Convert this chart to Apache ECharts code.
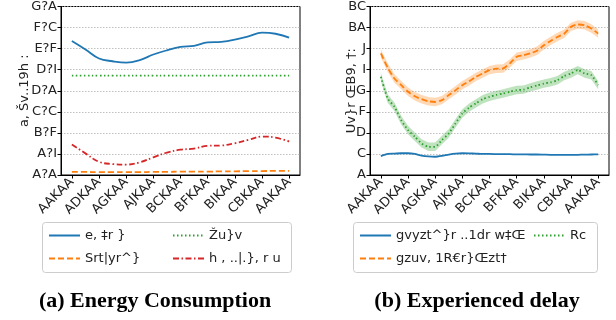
<!DOCTYPE html>
<html>
<head>
<meta charset="utf-8">
<script src="https://cdn.jsdelivr.net/npm/echarts@6/dist/echarts.min.js"></script>
<style>
  html, body { margin: 0; padding: 0; background: #fff; }
  #chart { width: 616px; height: 320px; }
</style>
</head>
<body>
<div id="chart"></div>
<script>
// x positions in hours of day
const hoursCoarse = [0, 1.5, 3, 4.5, 6, 7.5, 9, 10.5, 12, 13.5, 15, 16.5, 18, 19.5, 21, 22.5, 24];
const hoursFine = [0, 0.75, 1.5, 2.25, 3, 3.75, 4.5, 5.25, 6, 6.75, 7.5, 8.25, 9, 9.75, 10.5, 11.25,
  12, 12.75, 13.5, 14.25, 15, 15.75, 16.5, 17.25, 18, 18.75, 19.5, 20.25, 21, 21.75, 22.5, 23.25, 24];

const xTickValues = [0, 3, 6, 9, 12, 15, 18, 21, 24];
const xTickLabels = ['AAKAA', 'ADKAA', 'AGKAA', 'AJKAA', 'BCKAA', 'BFKAA', 'BIKAA', 'CBKAA', 'AAKAA'];
const energyTickLabels = ['A?A', 'A?I', 'B?F', 'C?C', 'D?A', 'D?I', 'E?F', 'F?C', 'G?A'];
const delayTickLabels = ['A', 'C', 'D', 'F', 'G', 'I', 'J', 'BA', 'BC'];

// (a) energy
const energyNames = ['e, \u2021r }', 'Srt|yr^}', '\u017du}v', 'h , ..|.}, r u'];
const energyBlue = [4.77, 4.47, 4.15, 4.05, 4.0, 4.09, 4.29, 4.44, 4.56, 4.6, 4.72, 4.74, 4.82, 4.94, 5.07, 5.03, 4.89];
const energyOrange = [0.11, 0.11, 0.1, 0.1, 0.1, 0.1, 0.11, 0.11, 0.12, 0.12, 0.12, 0.13, 0.13, 0.14, 0.14, 0.15, 0.15];
const energyGreen = [3.54, 3.54, 3.54, 3.54, 3.54, 3.54, 3.54, 3.54, 3.54, 3.54, 3.54, 3.54, 3.54, 3.54, 3.54, 3.54, 3.54];
const energyRed = [1.09, 0.77, 0.47, 0.39, 0.37, 0.45, 0.63, 0.8, 0.9, 0.94, 1.04, 1.05, 1.13, 1.25, 1.37, 1.33, 1.19];

// (b) delay
const delayNames = ['gvyzt^}r ..1dr w\u2021\u0152', 'gzuv, 1R\u20acr}\u0152zt\u2020', 'Rc'];
const delayBlue = [1.35, 1.5, 1.52, 1.55, 1.55, 1.5, 1.38, 1.32, 1.3, 1.36, 1.45, 1.52, 1.55, 1.54, 1.52, 1.5,
  1.5, 1.49, 1.48, 1.48, 1.47, 1.47, 1.46, 1.46, 1.45, 1.44, 1.44, 1.43, 1.43, 1.44, 1.45, 1.46, 1.47];
const delayOrange = [8.66, 7.65, 6.87, 6.4, 5.93, 5.61, 5.4, 5.25, 5.2, 5.33, 5.69, 6.04, 6.4, 6.68, 6.99, 7.23,
  7.47, 7.57, 7.59, 7.95, 8.42, 8.52, 8.66, 8.85, 9.24, 9.55, 9.83, 10.06, 10.55, 10.72, 10.67, 10.43, 10.07];
const delayGreen = [6.99, 5.45, 4.86, 3.9, 3.2, 2.73, 2.25, 2.01, 2.01, 2.49, 2.96, 3.68, 4.38, 4.8, 5.1, 5.4,
  5.57, 5.7, 5.8, 5.93, 6.05, 6.08, 6.24, 6.38, 6.51, 6.6, 6.75, 7.05, 7.23, 7.47, 7.23, 7.11, 6.4];
const bandHalfWidth = 0.3;

const BLUE = '#1f77b4', ORANGE = '#ff7f0e', GREEN = '#2ca02c', RED = '#d62728';
const FONT = 'DejaVu Sans';

const chart = echarts.init(document.getElementById('chart'), null, { renderer: 'canvas' });

const pairs = (xs, ys) => xs.map((x, i) => [x, ys[i]]);

function xAxisFor(gridIndex) {
  return {
    type: 'value', gridIndex, min: -1.2, max: 25.2,
    axisLine: { show: true, onZero: false, lineStyle: { color: '#000', width: 1 } },
    axisTick: { show: true, length: 3.5, customValues: xTickValues, lineStyle: { color: '#000' } },
    axisLabel: {
      customValues: xTickValues, rotate: 45, margin: 5,
      fontFamily: FONT, fontSize: 13, color: '#222',
      formatter: (v) => xTickLabels[xTickValues.indexOf(v)]
    },
    splitLine: { show: false }
  };
}

function yAxisFor(gridIndex, max, interval, labels, name, nameGap) {
  return {
    type: 'value', gridIndex, min: 0, max, interval,
    name, nameLocation: 'middle', nameGap, nameMoveOverlap: false,
    nameTextStyle: { fontFamily: FONT, fontSize: 13, color: '#222' },
    axisLine: { show: true, onZero: false, lineStyle: { color: '#000', width: 1 } },
    axisTick: { show: true, length: 3.5, lineStyle: { color: '#000' } },
    axisLabel: {
      margin: 4, fontFamily: FONT, fontSize: 13, color: '#222',
      formatter: (v) => labels[Math.round(v / interval)]
    },
    splitLine: { show: true, lineStyle: { color: '#b0b0b0', width: 0.8, type: [1.5, 1.5] } }
  };
}

function line(name, idx, xs, ys, color, dash, smooth) {
  return {
    type: 'line', name, xAxisIndex: idx, yAxisIndex: idx,
    data: pairs(xs, ys), showSymbol: false, symbol: 'none', smooth,
    lineStyle: { color, width: 1.8, type: dash }, itemStyle: { color },
    z: 3, silent: true
  };
}

// shaded spread around a delay line, drawn as one polygon through the axis scales
function band(xs, ys, color) {
  return {
    type: 'custom', xAxisIndex: 1, yAxisIndex: 1, silent: true, z: 1,
    data: [[xs[0], ys[0]]],
    renderItem: (params, api) => {
      const upper = xs.map((x, i) => api.coord([x, ys[i] + bandHalfWidth]));
      const lower = xs.map((x, i) => api.coord([x, ys[i] - bandHalfWidth])).reverse();
      return { type: 'polygon', shape: { points: upper.concat(lower) }, style: { fill: color } };
    }
  };
}

function legendItem(name, left, top) {
  return {
    data: [name], left, top, padding: 0, itemWidth: 31, itemHeight: 12,
    selectedMode: false,
    itemStyle: { opacity: 0 },
    textStyle: { fontFamily: FONT, fontSize: 13, color: '#222' }
  };
}

chart.setOption({
  animation: false,
  grid: [
    { left: 61, top: 6, width: 239, height: 169, show: true, borderColor: '#000', borderWidth: 1 },
    { left: 370, top: 6, width: 239, height: 169, show: true, borderColor: '#000', borderWidth: 1 }
  ],
  xAxis: [xAxisFor(0), xAxisFor(1)],
  yAxis: [
    yAxisFor(0, 6, 0.75, energyTickLabels, 'a, \u0160v..19h :', 30),
    yAxisFor(1, 12, 1.5, delayTickLabels, 'Uv}r \u0152B9, \u2020:', 12)
  ],
  legend: [
    legendItem(energyNames[0], 48, 229),
    legendItem(energyNames[2], 172, 229),
    legendItem(energyNames[1], 48, 252),
    legendItem(energyNames[3], 172, 252),
    legendItem(delayNames[0], 359, 229),
    legendItem(delayNames[2], 533, 229),
    legendItem(delayNames[1], 359, 252)
  ],
  graphic: [
    { type: 'rect', shape: { x: 42.5, y: 222.5, width: 249, height: 50, r: 3 }, style: { fill: 'none', stroke: '#cccccc', lineWidth: 1 } },
    { type: 'rect', shape: { x: 353.5, y: 222.5, width: 244, height: 50, r: 3 }, style: { fill: 'none', stroke: '#cccccc', lineWidth: 1 } },
    { type: 'text', x: 155, y: 301, style: { text: '(a) Energy Consumption', font: 'bold 22px "Liberation Serif"', fill: '#000', textAlign: 'center', textVerticalAlign: 'middle' } },
    { type: 'text', x: 477, y: 301, style: { text: '(b) Experienced delay', font: 'bold 22px "Liberation Serif"', fill: '#000', textAlign: 'center', textVerticalAlign: 'middle' } }
  ],
  series: [
    line(energyNames[0], 0, hoursCoarse, energyBlue, BLUE, 'solid', 0.4),
    line(energyNames[1], 0, hoursCoarse, energyOrange, ORANGE, [6, 3], 0.4),
    line(energyNames[2], 0, hoursCoarse, energyGreen, GREEN, [1.5, 2.5], 0.4),
    line(energyNames[3], 0, hoursCoarse, energyRed, RED, [6, 2.5, 1.5, 2.5], 0.4),
    band(hoursFine, delayOrange, 'rgba(255,127,14,0.3)'),
    band(hoursFine, delayGreen, 'rgba(44,160,44,0.3)'),
    line(delayNames[0], 1, hoursFine, delayBlue, BLUE, 'solid', 0.2),
    line(delayNames[1], 1, hoursFine, delayOrange, ORANGE, [6, 3], 0.2),
    line(delayNames[2], 1, hoursFine, delayGreen, GREEN, [1.5, 2.5], 0.2)
  ]
});
</script>
</body>
</html>
